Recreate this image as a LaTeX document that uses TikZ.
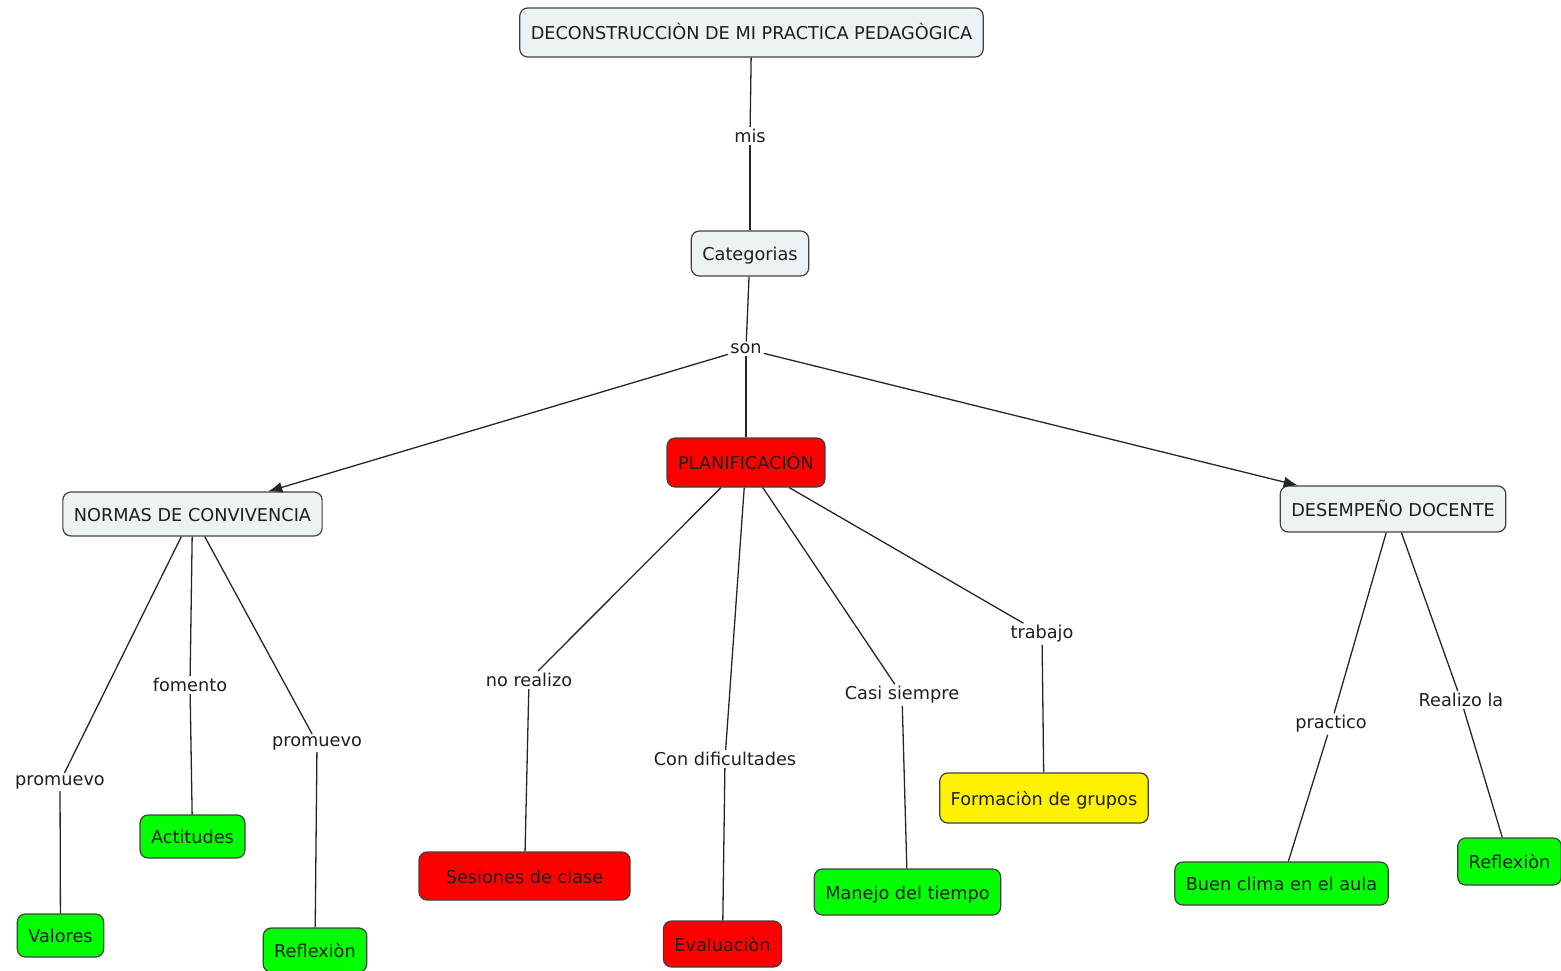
\documentclass[tikz,border=0pt]{standalone}
\usepackage{fontspec}
\setmainfont{DejaVu Sans}
\usetikzlibrary{arrows.meta}

\definecolor{concgray}{HTML}{EDF3F5}
\definecolor{txtgray}{HTML}{1E1E1E}

\tikzset{
	concept/.style={draw=black!75, line width=1.2pt, rounded corners=8pt, fill=concgray,
		inner xsep=11pt, minimum height=45pt, text height=16pt, text depth=1.5pt,
		font=\fontsize{17.7}{20}\selectfont, text=txtgray},
	linkword/.style={inner sep=2pt, font=\fontsize{17.7}{20}\selectfont, text=txtgray},
	every edge/.style={draw, line width=1.3pt, black!85}
}

\begin{document}
\begin{tikzpicture}[x=1pt,y=-1pt]
		\useasboundingbox (0,0) rectangle (1561,971);

		\draw (751.5,32.5) node [concept, minimum height=49pt] (top) {DECONSTRUCCIÒN DE MI PRACTICA PEDAGÒGICA};
		\draw (750,253.5) node [concept] (cat) {Categorias};
		\draw (746,462.5) node [concept, fill=red, minimum height=49pt] (plan) {PLANIFICACIÒN};
		\draw (192.5,514) node [concept, minimum height=44pt] (normas) {NORMAS DE CONVIVENCIA};
		\draw (1393,509) node [concept, minimum height=46pt] (desemp) {DESEMPEÑO DOCENTE};

		\draw (60.5,935.5) node [concept, fill=green, minimum height=43pt] (valores) {Valores};
		\draw (192.5,836.5) node [concept, fill=green, minimum height=43pt] (actitudes) {Actitudes};
		\draw (315,950) node [concept, fill=green, minimum height=44pt] (reflexA) {Reflexiòn};
		\draw (524.5,876) node [concept, fill=red, minimum height=48pt, minimum width=211pt] (sesiones) {Sesiones de clase};
		\draw (722.5,944) node [concept, fill=red, minimum height=46pt] (evalua) {Evaluaciòn};
		\draw (907.5,892) node [concept, fill=green, minimum height=46pt] (manejo) {Manejo del tiempo};
		\draw (1044,798) node [concept, fill=yellow, minimum height=50pt] (formacion) {Formaciòn de grupos};
		\draw (1281.5,883.5) node [concept, fill=green, minimum height=43pt] (buen) {Buen clima en el aula};
		\draw (1509.5,861.5) node [concept, fill=green, minimum height=47pt] (reflexB) {Reflexiòn};

		% palabras de enlace
		\draw (750,136) node [linkword] (mis) {mis};
		\draw (746,349) node [linkword] (son) {son};
		\draw (529,680) node [linkword] (noreal) {no realizo};
		\draw (725,759) node [linkword] (condif) {Con dificultades};
		\draw (902,695) node [linkword] (casi) {Casi siempre};
		\draw (1042,634) node [linkword] (trabajo) {trabajo};
		\draw (190,685) node [linkword] (fomento) {fomento};
		\draw (60,782) node [linkword] (promA) {promuevo};
		\draw (317,743) node [linkword] (promB) {promuevo};
		\draw (1331,724) node [linkword] (practico) {practico};
		\draw (1461,700) node [linkword] (realizo) {Realizo la};

		\draw
			(top) edge (mis)
			(mis) edge (cat)
			(cat) edge (son)
			(son) edge (plan)
			(son) edge [-{Latex[length=14pt,width=11pt]}] (normas)
			(son) edge [-{Latex[length=14pt,width=11pt]}] (desemp)
			(normas) edge (promA)
			(promA) edge (valores)
			(normas) edge (fomento)
			(fomento) edge (actitudes)
			(normas) edge (promB)
			(promB) edge (reflexA)
			(plan) edge (noreal)
			(noreal) edge (sesiones)
			(plan) edge (condif)
			(condif) edge (evalua)
			(plan) edge (casi)
			(casi) edge (manejo)
			(plan) edge (trabajo)
			(trabajo) edge (formacion)
			(desemp) edge (practico)
			(practico) edge (buen)
			(desemp) edge (realizo)
			(realizo) edge (reflexB)
		;
	\end{tikzpicture}
\end{document}
